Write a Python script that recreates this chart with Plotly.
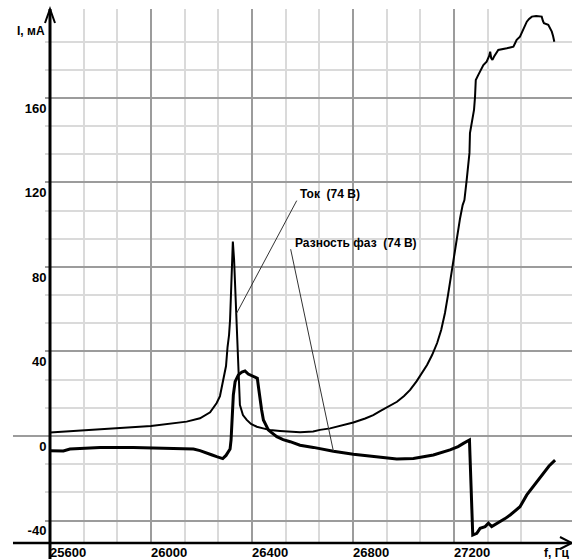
import numpy as np
import plotly.graph_objects as go

# Current through the transducer, mA, vs. frequency, Hz (74 V drive)
current_freq = [
    25600, 25798, 26000, 26141, 26194, 26234, 26260, 26273, 26281, 26291,
    26297, 26303, 26309, 26313, 26317, 26321, 26324, 26329, 26333, 26337,
    26342, 26347, 26350, 26352, 26364, 26379, 26396, 26419, 26444, 26471,
    26511, 26550, 26590, 26642, 26669, 26709, 26749, 26801, 26848, 26880,
    26907, 26935, 26958, 26974, 27002, 27026, 27052, 27073, 27093, 27113,
    27133, 27149, 27164, 27176, 27188, 27200, 27212, 27224, 27234, 27241,
    27250, 27261, 27263, 27272, 27279, 27283, 27286, 27296, 27306, 27316,
    27329, 27339, 27343, 27347, 27352, 27358, 27375, 27390, 27409, 27422,
    27435, 27442, 27448, 27461, 27474, 27481, 27488, 27497, 27508, 27525,
    27547, 27552, 27556, 27573, 27580, 27587, 27592, 27597,
]
current_ma = [
    1.6, 3.1, 4.7, 6.8, 8.4, 11.2, 15.6, 18.9, 23.2, 29.3,
    33.1, 42.1, 47.8, 54.9, 70.5, 86.6, 92.0, 83.3, 70.5, 54.9,
    39.3, 31.2, 21.8, 14.7, 9.9, 7.6, 5.7, 4.4, 3.6, 2.8,
    2.4, 2.0, 1.8, 2.1, 2.9, 3.6, 4.7, 6.4, 8.3, 9.9,
    11.8, 13.5, 15.1, 16.2, 18.9, 21.8, 26.0, 29.8, 33.6, 38.3,
    44.0, 50.2, 58.2, 66.7, 76.2, 85.7, 95.1, 103.2, 109.3, 111.7,
    121.2, 134.0, 143.4, 149.6, 154.3, 160.5, 168.5, 170.9, 173.3, 175.6,
    177.2, 179.9, 181.9, 178.9, 178.0, 179.5, 182.7, 183.2, 183.5, 183.9,
    184.3, 186.0, 187.5, 189.0, 192.2, 194.6, 196.1, 197.4, 198.5, 198.8,
    198.5, 196.4, 195.4, 194.6, 193.1, 191.4, 189.3, 186.6,
]

# Phase difference (74 V drive), same vertical scale
phase_freq = [
    25600, 25653, 25679, 25745, 25798, 25930, 26004, 26062, 26168, 26194,
    26221, 26242, 26260, 26284, 26297, 26306, 26313, 26317, 26320, 26323,
    26326, 26333, 26346, 26360, 26372, 26385, 26405, 26421, 26426, 26432,
    26438, 26445, 26465, 26498, 26523, 26551, 26590, 26643, 26722, 26801,
    26880, 26927, 26973, 27039, 27118, 27184, 27216, 27237, 27261, 27263,
    27266, 27270, 27274, 27290, 27303, 27323, 27336, 27349, 27382, 27402,
    27422, 27442, 27461, 27488, 27514, 27533, 27554, 27576, 27600,
]
phase_val = [
    -7.0, -7.1, -6.2, -5.8, -5.5, -5.5, -5.8, -5.8, -6.2, -6.9,
    -7.9, -9.0, -9.8, -10.7, -9.2, -7.4, -6.2, -1.9, 4.3, 12.3,
    19.4, 25.7, 28.9, 30.3, 30.8, 29.3, 28.4, 27.3, 22.7, 17.0,
    12.3, 7.6, 2.8, -0.3, -1.7, -2.7, -4.4, -5.4, -7.2, -8.6,
    -9.7, -10.3, -10.9, -10.6, -9.0, -6.6, -5.0, -3.5, -1.9, -9.0,
    -20.8, -32.7, -46.9, -46.1, -43.7, -42.9, -41.3, -42.9, -40.6, -39.1,
    -37.4, -35.5, -33.5, -27.9, -24.0, -20.8, -17.7, -14.2, -11.4,
]

x_major = [25600, 26000, 26400, 26800, 27200]
y_major = [-40, 0, 40, 80, 120, 160]

X_RANGE = [25600, 27667]
Y_RANGE = [-50.65, 202.1]

MAJOR_GRID = "#9c9c9c"
MINOR_GRID = "#dadada"
TICK_FONT = dict(family="Liberation Sans, Arial, sans-serif", size=13,
                 color="#000000", weight="bold")
LABEL_FONT = dict(family="Liberation Sans, Arial, sans-serif", size=12,
                  color="#000000", weight="bold")

fig = go.Figure()
fig.add_trace(go.Scatter(x=current_freq, y=current_ma, mode="lines",
                         line=dict(color="#000000", width=2),
                         name="Ток (74 В)", showlegend=False))
fig.add_trace(go.Scatter(x=phase_freq, y=phase_val, mode="lines",
                         line=dict(color="#000000", width=3),
                         name="Разность фаз (74 В)", showlegend=False))

# Axes: grid every 400 Hz / 40 mA, finer grid in thirds
fig.update_xaxes(
    range=X_RANGE, showline=False, zeroline=False,
    tickvals=x_major, ticktext=[str(v) for v in x_major],
    ticks="", ticklabelposition="outside right",
    tickfont=TICK_FONT,
    showgrid=True, gridcolor=MAJOR_GRID, gridwidth=2,
    minor=dict(tickvals=list(np.arange(25600, 27500, 400 / 3)),
               showgrid=True, gridcolor=MINOR_GRID, gridwidth=1.5, ticks=""),
)
fig.update_yaxes(
    range=Y_RANGE, showline=False, zeroline=False,
    tickvals=y_major, ticktext=[str(v) for v in y_major],
    ticks="outside", ticklen=4, tickcolor=MAJOR_GRID, tickwidth=2,
    ticklabelposition="outside bottom",
    tickfont=TICK_FONT,
    showgrid=True, gridcolor=MAJOR_GRID, gridwidth=2,
    minor=dict(tickvals=list(np.arange(-40, 190, 40 / 3)),
               showgrid=True, gridcolor=MINOR_GRID, gridwidth=1.5,
               ticks="outside", ticklen=4, tickcolor=MINOR_GRID, tickwidth=1.5),
)

shapes = [
    # zero level carried to the left edge
    dict(type="line", xref="paper", yref="y", x0=-0.0709, x1=0, y0=0, y1=0,
         line=dict(color=MAJOR_GRID, width=2)),
    # vertical axis with arrow
    dict(type="line", xref="paper", yref="paper", x0=0, x1=0, y0=-0.03, y1=1.0,
         line=dict(color="#000000", width=3)),
    dict(type="path", xref="paper", yref="paper",
         path="M -0.0096 0.9738 L 0 1.0 L 0.0096 0.9738",
         line=dict(color="#000000", width=2)),
    # horizontal axis with arrow
    dict(type="line", xref="paper", yref="paper", x0=-0.0709, x1=1.0, y0=0, y1=0,
         line=dict(color="#000000", width=2.5)),
    dict(type="path", xref="paper", yref="paper",
         path="M 0.977 0.0112 L 1.0 0 L 0.977 -0.0112",
         line=dict(color="#000000", width=2)),
    # leader lines for the curve labels
    dict(type="line", xref="x", yref="y", x0=26577, y0=111.4, x1=26339, y1=58.1,
         line=dict(color="#333333", width=1)),
    dict(type="line", xref="x", yref="y", x0=26553, y0=88.4, x1=26722, y1=-7.1,
         line=dict(color="#333333", width=1)),
]

annotations = [
    dict(text="I, мА", xref="paper", yref="paper", x=-0.0671, y=0.9597,
         xanchor="left", yanchor="middle", showarrow=False, font=LABEL_FONT),
    dict(text="f, Гц", xref="paper", yref="paper", x=0.9425, y=-0.0187,
         xanchor="left", yanchor="middle", showarrow=False, font=LABEL_FONT),
    dict(text="Ток\u00a0\u00a0(74 В)", xref="x", yref="y", x=26583, y=114.4,
         xanchor="left", yanchor="middle", showarrow=False, font=LABEL_FONT),
    dict(text="Разность фаз\u00a0\u00a0(74 В)", xref="x", yref="y", x=26561, y=91.5,
         xanchor="left", yanchor="middle", showarrow=False, font=LABEL_FONT),
]

fig.update_layout(
    width=572, height=559,
    margin=dict(l=50, r=0, t=9, b=16, pad=0),
    paper_bgcolor="#ffffff", plot_bgcolor="#ffffff",
    shapes=shapes, annotations=annotations,
    showlegend=False,
)

fig.write_html("out.html")
